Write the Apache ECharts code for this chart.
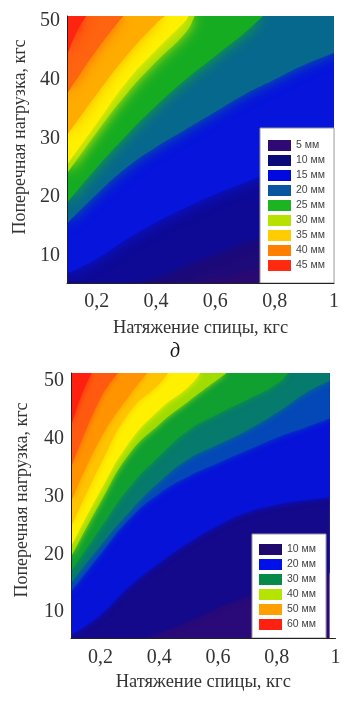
<!DOCTYPE html>
<html>
<head>
<meta charset="utf-8">
<script src="https://cdn.jsdelivr.net/npm/echarts@6/dist/echarts.min.js"></script>
<style>
html, body { margin: 0; padding: 0; background: #fff; }
#chart { width: 351px; height: 701px; }
</style>
</head>
<body>
<div id="chart"></div>
<script>
// axis ticks shared by both plots
var xTicks = [0.2, 0.4, 0.6, 0.8, 1];
var yTicks = [10, 20, 30, 40, 50];

// upper plot (д): contour lines, [tension, load] per level (mm)
var xRange1 = [0.1, 1.0];
var yRange1 = [5.4, 50.8];
var levels1 = [7.5, 10, 15, 20, 25, 30, 32.5, 35, 40, 45];
var d1_7 = [[0.1, 5.4], [0.5, 5.4], [0.6, 6.5], [0.7, 7.5], [0.8, 8.5], [0.9, 9.3], [1.0, 10]];
var d1_10 = [[0.1, 5.4], [0.3, 5.4], [0.4, 6.5], [0.5, 8.5], [0.6, 10.5], [0.7, 12.4], [0.8, 14], [0.9, 15.4], [1.0, 16.5]];
var d1_15 = [[0.1, 7], [0.2, 9.5], [0.3, 12.8], [0.4, 15.7], [0.5, 18.2], [0.6, 20.5], [0.7, 22.5], [0.8, 24.5], [0.9, 26], [1.0, 27.5]];
var d1_20 = [[0.1, 15.5], [0.2, 20.5], [0.3, 25], [0.4, 28.5], [0.5, 31.5], [0.6, 34.5], [0.7, 37.5], [0.8, 40], [0.9, 42.5], [1.0, 44.5]];
var d1_25 = [[0.1, 19], [0.2, 25], [0.3, 30.5], [0.4, 35.5], [0.5, 40], [0.6, 44], [0.7, 48], [0.76, 50.8]];
var d1_30 = [[0.1, 24], [0.2, 31], [0.3, 37.5], [0.4, 43], [0.5, 48], [0.53, 50.8]];
var d1_32 = [[0.1, 25.5], [0.2, 32.5], [0.3, 39.5], [0.4, 45], [0.5, 50], [0.51, 50.8]];
var d1_35 = [[0.1, 30.5], [0.2, 37.5], [0.3, 44], [0.4, 49.5], [0.43, 50.8]];
var d1_40 = [[0.1, 37.5], [0.2, 45], [0.29, 50.8]];
var d1_45 = [[0.1, 44], [0.13, 47.8], [0.165, 50.8]];
var contours1 = [d1_7, d1_10, d1_15, d1_20, d1_25, d1_30, d1_32, d1_35, d1_40, d1_45];
var legendNames1 = ['5 мм', '10 мм', '15 мм', '20 мм', '25 мм', '30 мм', '35 мм', '40 мм', '45 мм'];

// lower plot
var xRange2 = [0.1, 1.0];
var xFillEnd2 = 0.98;
var yRange2 = [5.5, 51.4];
var levels2 = [10, 15, 20, 25, 30, 35, 40, 45, 50, 55, 60];
var d2_10 = [[0.1, 5.5], [0.33, 5.5], [0.4, 6.5], [0.5, 8.5], [0.6, 10.8], [0.7, 12.8], [0.8, 14.5], [0.9, 15.8], [0.98, 16.8]];
var d2_15 = [[0.1, 6], [0.2, 9.5], [0.3, 14.5], [0.4, 18.5], [0.5, 22], [0.6, 25], [0.7, 27.3], [0.8, 28.6], [0.9, 29.4], [0.98, 29.9]];
var d2_20 = [[0.1, 13.5], [0.2, 20], [0.3, 26.2], [0.4, 30.5], [0.5, 33.5], [0.6, 35.8], [0.7, 38], [0.8, 40.2], [0.9, 42], [0.98, 43.5]];
var d2_25 = [[0.1, 15], [0.2, 21.5], [0.3, 27.4], [0.4, 32.5], [0.5, 36.5], [0.6, 39], [0.7, 41.5], [0.8, 44.5], [0.9, 48], [0.98, 50]];
var d2_30 = [[0.1, 17], [0.2, 24.5], [0.3, 31.7], [0.4, 37], [0.5, 41.5], [0.6, 44.3], [0.7, 46.8], [0.8, 49.5], [0.84, 51.4]];
var d2_35 = [[0.1, 19.5], [0.2, 29], [0.3, 37.5], [0.4, 42.5], [0.5, 46.5], [0.6, 50.3], [0.63, 51.4]];
var d2_40 = [[0.1, 21.3], [0.2, 31], [0.3, 39.5], [0.4, 45], [0.5, 49], [0.54, 51.4]];
var d2_45 = [[0.1, 24.7], [0.2, 35.5], [0.3, 44.7], [0.4, 49.5], [0.43, 51.4]];
var d2_50 = [[0.1, 29], [0.2, 40], [0.3, 47.6], [0.36, 51.4]];
var d2_55 = [[0.1, 35], [0.2, 47], [0.26, 51.4]];
var d2_60 = [[0.1, 42], [0.13, 46.8], [0.17, 51.4]];
var contours2 = [d2_10, d2_15, d2_20, d2_25, d2_30, d2_35, d2_40, d2_45, d2_50, d2_55, d2_60];
var legendNames2 = ['10 мм', '20 мм', '30 мм', '40 мм', '50 мм', '60 мм'];

// colours: base band first, then one per level
var bandColors1 = ['#2c0a72', '#1e0a78', '#0e0a96', '#0614dc', '#07688e', '#16ac22', '#a8dc06', '#fff000', '#ffac00', '#ff6410', '#ff2410'];
var legendColors1 = ['#2e0a72', '#0a0a78', '#0008e0', '#0a55a0', '#1cb420', '#b8e000', '#ffcc00', '#ff8000', '#ff2a10'];
var bandColors2 = ['#2a0a78', '#14098a', '#0612d8', '#0448b8', '#067a6c', '#10a030', '#a0dc00', '#fff000', '#ffc400', '#ff9400', '#ff5a10', '#ff2010'];
var legendColors2 = ['#1e0a6c', '#0010e8', '#058a4a', '#b4e400', '#ffa000', '#ff2010'];

var serif = '"Liberation Serif", "Times New Roman", serif';
var sans = '"Liberation Sans", Arial, sans-serif';
var yTitle = 'Поперечная нагрузка, кгс';

function levelName(v) {
    return String(v).replace('.', ',') + ' мм';
}

function band(name, pts, color, gi, blur) {
    return {
        type: 'line',
        name: name,
        xAxisIndex: gi,
        yAxisIndex: gi,
        data: pts,
        smooth: 0.5,
        symbol: 'none',
        silent: true,
        lineStyle: { width: 0 },
        itemStyle: { color: color },
        areaStyle: { color: color, opacity: 1, origin: 'end', shadowBlur: blur, shadowColor: color }
    };
}

function buildSeries(contours, levels, colors, baseName, xStart, xEnd, yMin, gi, blur) {
    var out = [band(baseName, [[xStart, yMin], [xEnd, yMin]], colors[0], gi, 0)];
    for (var i = 0; i < contours.length; i++) {
        out.push(band(levelName(levels[i]), contours[i], colors[i + 1], gi, blur));
    }
    return out;
}

function xAxisOf(range, gi, gap, margin) {
    return {
        type: 'value', gridIndex: gi, min: range[0], max: range[1], z: 10,
        name: 'Натяжение спицы, кгс', nameLocation: 'middle', nameGap: gap,
        nameTextStyle: { fontFamily: serif, fontSize: 18.5, color: '#333' },
        axisLine: { lineStyle: { color: '#222', width: 1 } },
        axisTick: { show: false },
        splitLine: { show: false },
        axisLabel: {
            customValues: xTicks, margin: margin, fontFamily: serif, fontSize: 20, color: '#333',
            formatter: function (v) { return String(v).replace('.', ','); }
        }
    };
}

function yAxisOf(range, gi) {
    return {
        type: 'value', gridIndex: gi, min: range[0], max: range[1], z: 10,
        axisLine: { show: true, lineStyle: { color: '#222', width: 1 } },
        axisTick: { show: false },
        splitLine: { show: false },
        axisLabel: { customValues: yTicks, margin: 7, fontFamily: serif, fontSize: 20, color: '#333' }
    };
}

function legendOf(names, colors, left, top, padding) {
    return {
        orient: 'vertical', left: left, top: top, padding: padding,
        backgroundColor: '#fff', borderColor: '#999', borderWidth: 1, borderRadius: 0,
        icon: 'rect', itemWidth: 23, itemHeight: 11, itemGap: 4,
        selectedMode: false,
        textStyle: { fontFamily: sans, fontSize: 10.5, color: '#444' },
        data: names.map(function (n, i) {
            return { name: n, itemStyle: { color: colors[i], borderWidth: 0 } };
        })
    };
}

function sideTitle(x, y) {
    return {
        type: 'text', x: x, y: y, rotation: Math.PI / 2, silent: true,
        style: { text: yTitle, font: '18px ' + serif, fill: '#333', align: 'center', verticalAlign: 'middle' }
    };
}

var chart = echarts.init(document.getElementById('chart'), null, { renderer: 'canvas' });

var series = buildSeries(contours1, levels1, bandColors1, '5 мм', xRange1[0], xRange1[1], yRange1[0], 0, 14)
    .concat(buildSeries(contours2, levels2, bandColors2, 'base2', xRange2[0], xFillEnd2, yRange2[0], 1, 6));

chart.setOption({
    animation: false,
    backgroundColor: '#fff',
    grid: [
        { left: 67, top: 16, width: 267, height: 267 },
        { left: 71, top: 373, width: 264.5, height: 265 }
    ],
    xAxis: [xAxisOf(xRange1, 0, 36, 9), xAxisOf(xRange2, 1, 35, 10)],
    yAxis: [yAxisOf(yRange1, 0), yAxisOf(yRange2, 1)],
    legend: [
        legendOf(legendNames1, legendColors1, 260, 128, [12, 9, 12, 8]),
        legendOf(legendNames2, legendColors2, 252, 534, [10, 10, 8, 7])
    ],
    graphic: [
        {
            // white strip where the lower map stops short of the axis end
            type: 'rect', left: 330, top: 373, z: 5, silent: true,
            shape: { width: 7, height: 264.5 },
            style: { fill: '#fff' }
        },
        sideTitle(20, 137),
        sideTitle(22, 500),
        {
            type: 'text', left: 170, top: 342,
            style: { text: 'д', font: 'italic 20px ' + serif, fill: '#111' }
        }
    ],
    series: series
});
</script>
</body>
</html>
